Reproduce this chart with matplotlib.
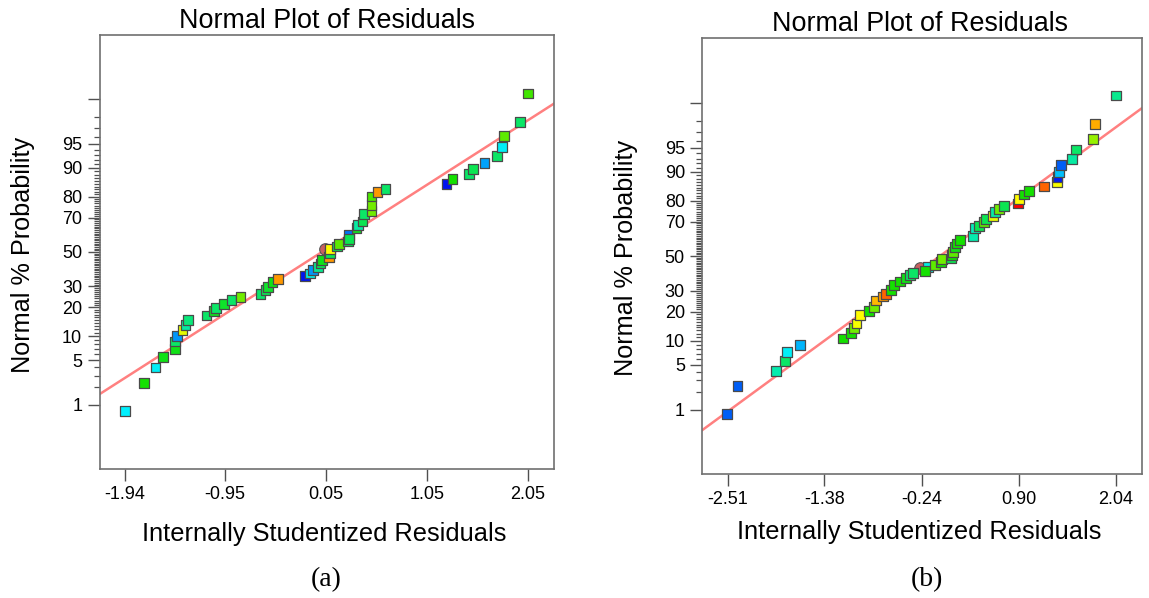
"""Normal probability plots of internally studentized residuals, panels (a) and (b)."""

from statistics import NormalDist

import matplotlib
import numpy as np

matplotlib.use("Agg")

from matplotlib import pyplot as plt  # noqa: E402
from matplotlib.colors import LinearSegmentedColormap  # noqa: E402
from matplotlib.ticker import FixedLocator, FixedFormatter  # noqa: E402

# ---- panel (a) data: residual, normal % probability, colour value ----
a_resid = [
    -1.94, -1.752, -1.636, -1.564, -1.445, -1.445, -1.419, -1.369, -1.339, -1.310,
    -1.131, -1.056, -1.039, -0.960, -0.884, -0.795, -0.597, -0.547, -0.521, -0.478,
    -0.419, -0.158, -0.108, -0.075, -0.023, -0.003, 0.014, 0.083, 0.090, 0.090,
    0.162, 0.182, 0.271, 0.281, 0.281, 0.354, 0.370, 0.413, 0.426, 0.502,
    0.502, 0.502, 0.562, 0.641, 1.245, 1.304, 1.466, 1.509, 1.621, 1.743,
    1.796, 1.812, 1.974, 2.050,
]
a_prob = [
    0.78, 2.34, 3.94, 5.48, 7.04, 8.68, 10.1, 11.9, 13.4, 15.0,
    16.7, 18.4, 19.7, 21.3, 23.2, 24.6, 26.2, 28.1, 29.8, 32.5,
    34.0, 35.7, 37.2, 39.0, 41.1, 43.1, 45.1, 47.2, 49.2, 51.6,
    53.3, 54.9, 56.3, 60.3, 57.7, 64.1, 66.0, 67.9, 71.9, 73.5,
    76.4, 80.1, 81.8, 83.2, 85.0, 86.6, 88.1, 89.7, 91.3, 92.8,
    94.5, 96.1, 97.6, 99.2,
]
a_level = [
    0.25, 0.50, 0.26, 0.48, 0.48, 0.40, 0.16, 0.72, 0.34, 0.38,
    0.40, 0.47, 0.40, 0.46, 0.40, 0.60, 0.40, 0.42, 0.46, 0.48,
    0.85, 0.02, 0.28, 0.16, 0.36, 0.42, 0.48, 0.85, 0.42, 0.75,
    0.42, 0.58, 0.42, 0.12, 0.42, 0.47, 0.34, 0.42, 0.40, 0.60,
    0.60, 0.56, 0.85, 0.40, 0.02, 0.50, 0.40, 0.42, 0.17, 0.40,
    0.26, 0.58, 0.40, 0.55,
]
a_circle = (0.043, 52.0)
a_line_resid = [-2.19, 2.31]
a_line_prob = [1.53, 98.80]
a_ticks = [-1.94, -0.95, 0.05, 1.05, 2.05]

# ---- panel (b) data ----
b_resid = [
    -2.518, -2.397, -1.944, -1.843, -1.815, -1.663, -1.160, -1.066, -1.027, -1.003,
    -0.957, -0.859, -0.800, -0.773, -0.691, -0.660, -0.597, -0.558, -0.496, -0.418,
    -0.371, -0.340, -0.164, -0.203, -0.082, -0.012, 0.000, 0.105, 0.117, 0.129,
    0.156, 0.176, 0.207, 0.359, 0.382, 0.429, 0.488, 0.519, 0.597, 0.624,
    0.667, 0.722, 0.886, 0.905, 0.964, 1.015, 1.198, 1.346, 1.354, 1.370,
    1.397, 1.526, 1.573, 1.768, 1.795, 2.037,
]
b_prob = [
    0.83, 2.48, 4.08, 5.66, 7.40, 8.93, 10.6, 12.3, 13.9, 15.4,
    18.7, 20.4, 21.9, 25.1, 27.0, 28.5, 30.4, 33.1, 35.0, 36.9,
    38.6, 39.8, 43.5, 41.2, 44.5, 46.6, 48.2, 48.6, 50.6, 52.6,
    55.3, 57.6, 59.6, 62.2, 66.5, 67.8, 69.6, 71.3, 73.0, 74.7,
    76.1, 77.7, 78.7, 80.7, 82.5, 83.8, 85.45, 86.9, 88.4, 89.9,
    91.6, 93.0, 94.7, 96.2, 97.7, 99.25,
]
b_level = [
    0.10, 0.10, 0.33, 0.40, 0.26, 0.19, 0.50, 0.50, 0.60, 0.74,
    0.75, 0.50, 0.60, 0.82, 0.85, 0.90, 0.50, 0.50, 0.50, 0.48,
    0.40, 0.40, 0.28, 0.50, 0.58, 0.50, 0.60, 0.42, 0.50, 0.58,
    0.48, 0.50, 0.50, 0.33, 0.32, 0.42, 0.58, 0.42, 0.73, 0.34,
    0.60, 0.42, 1.00, 0.75, 0.50, 0.50, 0.90, 0.74, 0.03, 0.20,
    0.10, 0.34, 0.40, 0.64, 0.83, 0.36,
]
b_circle = (-0.254, 42.9)
b_line_resid = [-2.81, 2.34]
b_line_prob = [0.42, 98.74]
b_ticks = [-2.51, -1.38, -0.24, 0.90, 2.04]

prob_major = [1, 5, 10, 20, 30, 50, 70, 80, 90, 95, 99]
prob_labels = ["1", "5", "10", "20", "30", "50", "70", "80", "90", "95", ""]

RAINBOW = LinearSegmentedColormap.from_list(
    "design_rainbow", ["#0000f0", "#00f0ff", "#12e000", "#ffff00", "#ff0000"]
)
_ND = NormalDist()
Z_LIM = 3.3


def _to_z(p):
    p = np.clip(np.asarray(p, dtype=float), 1e-6, 100 - 1e-6)
    return np.vectorize(lambda v: _ND.inv_cdf(v / 100.0), otypes=[float])(p)


def _to_p(z):
    z = np.asarray(z, dtype=float)
    return np.vectorize(lambda v: _ND.cdf(v) * 100.0, otypes=[float])(z)


def _panel(ax, resid, prob, level, circle, line_x, line_p, xticks):
    ax.set_yscale("function", functions=(_to_z, _to_p))
    ax.plot(line_x, line_p, color="#ff8080", lw=1.8, zorder=2)
    ax.scatter([circle[0]], [circle[1]], marker="o", s=70, color="#c86060",
               edgecolors="#555555", linewidths=0.8, zorder=3)
    ax.scatter(resid, prob, c=level, cmap=RAINBOW, vmin=0, vmax=1, marker="s",
               s=50, edgecolors="#4a4a4a", linewidths=0.9, zorder=4)

    ax.set_ylim(_to_p(-Z_LIM), _to_p(Z_LIM))
    ax.yaxis.set_major_locator(FixedLocator(prob_major))
    ax.yaxis.set_major_formatter(FixedFormatter(prob_labels))
    minor = [v for v in range(2, 99) if v not in prob_major]
    ax.yaxis.set_minor_locator(FixedLocator(minor))
    ax.set_xticks(xticks, [f"{t:.2f}" for t in xticks])

    ax.tick_params(axis="both", which="major", length=8.5, width=1.0,
                   color="#505050", labelsize=13, pad=4)
    ax.tick_params(axis="y", which="minor", length=4.3, width=0.9, color="#505050")
    for spine in ax.spines.values():
        spine.set_color("#707070")
        spine.set_linewidth(1.2)


fig = plt.figure(figsize=(11.49, 5.98), dpi=100)
ax_a = fig.add_axes([0.0866, 0.2157, 0.3956, 0.7258])
ax_b = fig.add_axes([0.6112, 0.2074, 0.3824, 0.7286])

ax_a.set_xlim(-2.19, 2.31)
ax_b.set_xlim(-2.81, 2.34)
_panel(ax_a, a_resid, a_prob, a_level, a_circle, a_line_resid, a_line_prob, a_ticks)
_panel(ax_b, b_resid, b_prob, b_level, b_circle, b_line_resid, b_line_prob, b_ticks)

sans = "Liberation Sans"
for x, y in [(0.2846, 0.9649), (0.8007, 0.9599)]:
    fig.text(x, y, "Normal Plot of Residuals", ha="center", va="center",
             fontsize=19.4, family=sans)
for x, y in [(0.282, 0.107), (0.800, 0.1104)]:
    fig.text(x, y, "Internally Studentized Residuals", ha="center", va="center",
             fontsize=18.3, family=sans)
for x, y in [(0.020, 0.574), (0.545, 0.569)]:
    fig.text(x, y, "Normal % Probability", ha="center", va="center",
             rotation=90, fontsize=18.2, family=sans)
for x, label in [(0.2837, "(a)"), (0.8068, "(b)")]:
    fig.text(x, 0.030, label, ha="center", va="center", fontsize=20,
             family="Liberation Serif")

for ax in (ax_a, ax_b):
    for lbl in ax.get_xticklabels() + ax.get_yticklabels():
        lbl.set_family(sans)

fig.savefig("out.png", dpi=100)
plt.close(fig)
